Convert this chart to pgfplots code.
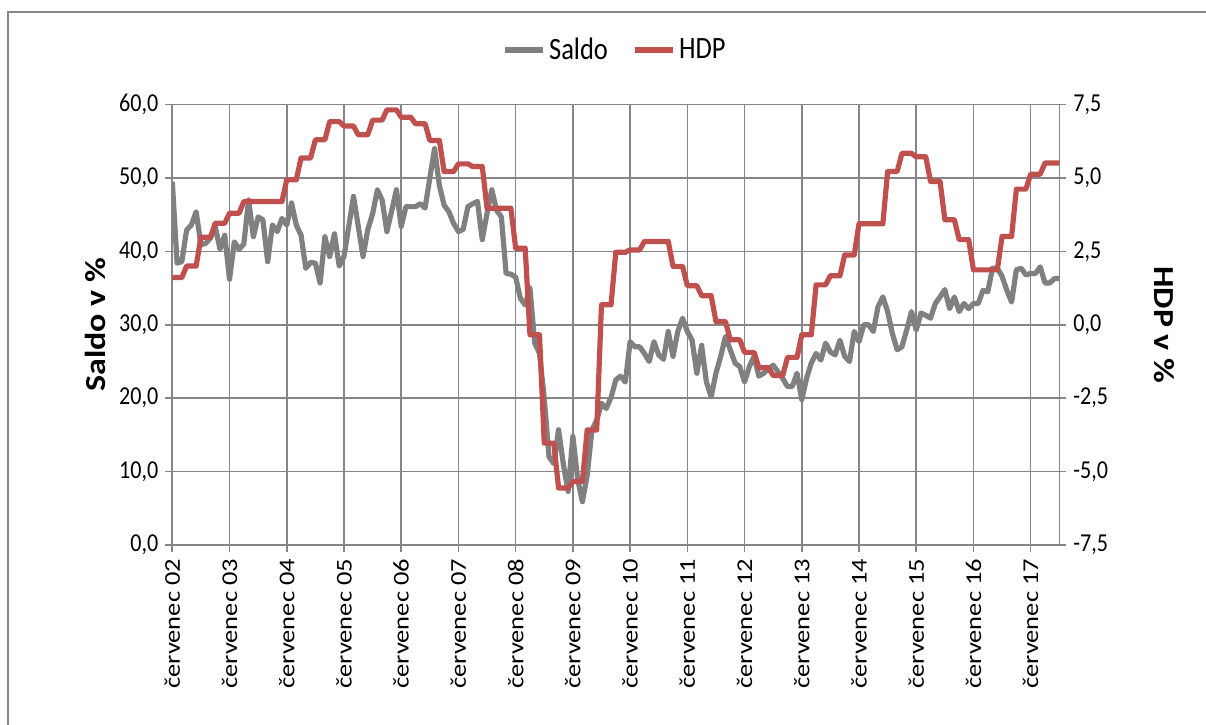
\documentclass[border=0pt]{standalone}
\usepackage{fontspec}
\setmainfont{Carlito}
\newfontfamily\hfont{Carlito}[FakeStretch=0.855]
\newfontfamily\vfont{Carlito}[FakeStretch=1.17]
\usepackage{pgfplots}
\pgfplotsset{compat=1.18}
\usepackage{pgfplotstable}
\definecolor{gridgray}{HTML}{868686}
\definecolor{saldogray}{HTML}{808080}
\definecolor{hdpred}{HTML}{C0504D}
\pgfplotsset{legend image code/.code={\draw[#1] (0pt,0pt) -- (19pt,0pt);}}

\pgfplotstableread{
m saldo hdp
0 49.5 1.61
1 38.4 1.61
2 38.6 1.61
3 42.9 2.00
4 43.6 2.00
5 45.4 2.00
6 40.9 2.98
7 41.1 2.98
8 41.8 2.98
9 43.4 3.46
10 40.3 3.46
11 42.2 3.46
12 36.2 3.80
13 41.3 3.80
14 40.3 3.80
15 41.0 4.20
16 47.0 4.20
17 42.0 4.20
18 44.7 4.20
19 44.3 4.20
20 38.6 4.20
21 43.6 4.20
22 42.7 4.20
23 44.5 4.20
24 43.6 4.94
25 46.6 4.94
26 43.6 4.94
27 42.2 5.68
28 37.7 5.68
29 38.5 5.68
30 38.4 6.30
31 35.7 6.30
32 42.0 6.30
33 39.3 6.92
34 42.4 6.92
35 38.0 6.92
36 39.3 6.77
37 43.4 6.77
38 47.5 6.77
39 43.4 6.47
40 39.3 6.47
41 43.0 6.47
42 45.1 6.97
43 48.4 6.97
44 47.0 6.97
45 42.7 7.32
46 45.5 7.32
47 48.4 7.32
48 43.4 7.07
49 46.1 7.07
50 46.1 7.07
51 46.1 6.85
52 46.5 6.85
53 45.9 6.85
54 50.0 6.28
55 54.0 6.28
56 49.0 6.28
57 46.3 5.22
58 45.4 5.22
59 43.8 5.22
60 42.7 5.48
61 43.0 5.48
62 46.1 5.48
63 46.5 5.39
64 46.8 5.39
65 41.6 5.39
66 45.2 3.97
67 48.4 3.97
68 45.6 3.97
69 44.7 3.97
70 37.0 3.97
71 36.9 3.97
72 36.5 2.61
73 33.6 2.61
74 32.7 2.61
75 35.0 -0.34
76 27.5 -0.34
77 26.1 -0.34
78 20.0 -4.03
79 12.0 -4.03
80 11.1 -4.03
81 15.7 -5.56
82 11.0 -5.56
83 7.3 -5.56
84 14.8 -5.34
85 9.0 -5.34
86 5.9 -5.34
87 9.5 -3.58
88 15.7 -3.58
89 17.0 -3.58
90 19.3 0.68
91 18.6 0.68
92 20.1 0.68
93 22.5 2.47
94 23.0 2.47
95 22.2 2.47
96 27.7 2.55
97 27.0 2.55
98 27.0 2.55
99 26.1 2.84
100 25.0 2.84
101 27.7 2.84
102 25.9 2.84
103 25.3 2.84
104 29.1 2.84
105 25.7 1.99
106 29.1 1.99
107 30.9 1.99
108 29.1 1.33
109 27.9 1.33
110 23.4 1.33
111 27.2 0.99
112 22.2 0.99
113 20.2 0.99
114 23.4 0.11
115 25.7 0.11
116 28.4 0.11
117 26.6 -0.51
118 24.8 -0.51
119 24.3 -0.51
120 22.2 -0.94
121 24.3 -0.94
122 25.7 -0.94
123 23.0 -1.46
124 23.4 -1.46
125 24.0 -1.46
126 24.5 -1.73
127 23.6 -1.73
128 22.7 -1.73
129 21.6 -1.11
130 21.6 -1.11
131 23.4 -1.11
132 19.8 -0.34
133 22.7 -0.34
134 24.8 -0.34
135 26.1 1.36
136 25.2 1.36
137 27.5 1.36
138 26.3 1.67
139 25.9 1.67
140 27.9 1.67
141 25.7 2.38
142 25.0 2.38
143 29.1 2.38
144 27.7 3.44
145 30.0 3.44
146 30.0 3.44
147 29.1 3.44
148 32.5 3.44
149 33.8 3.44
150 31.8 5.22
151 28.8 5.22
152 26.6 5.22
153 27.0 5.84
154 29.3 5.84
155 31.8 5.84
156 29.3 5.72
157 31.6 5.72
158 31.3 5.72
159 30.9 4.88
160 32.9 4.88
161 33.8 4.88
162 34.8 3.58
163 32.2 3.58
164 33.8 3.58
165 31.8 2.90
166 32.9 2.90
167 32.2 2.90
168 32.9 1.87
169 32.9 1.87
170 34.7 1.87
171 34.5 1.87
172 37.7 1.87
173 37.7 1.87
174 36.6 3.01
175 34.7 3.01
176 33.1 3.01
177 37.5 4.62
178 37.7 4.62
179 36.8 4.62
180 37.0 5.13
181 37.0 5.13
182 37.9 5.13
183 35.7 5.51
184 35.7 5.51
185 36.3 5.51
186 36.3 5.51
}\datatab

\begin{document}
\begin{tikzpicture}
\path[use as bounding box] (-86.15pt,-89.5pt) rectangle (516.85pt,272.5pt);
\draw[gridgray, line width=1pt] (-82.15pt,-95pt) -- (-82.15pt,266.5pt) -- (525pt,266.5pt);
\begin{axis}[
  at={(0pt,0pt)}, anchor=south west,
  scale only axis, width=443.5pt, height=220.2pt,
  xmin=0, xmax=186, ymin=0, ymax=60,
  xtick={0,12,...,180},
  xticklabels={červenec 02,červenec 03,červenec 04,červenec 05,červenec 06,červenec 07,červenec 08,červenec 09,červenec 10,červenec 11,červenec 12,červenec 13,červenec 14,červenec 15,červenec 16,červenec 17},
  ytick={0,10,20,30,40,50,60},
  xtick pos=bottom, ytick pos=left,
  grid=major,
  major grid style={gridgray, line width=0.8pt},
  axis line style={gridgray, line width=0.8pt},
  tick style={gridgray, line width=0.8pt},
  tick align=outside, major tick length=3.5pt,
  xticklabel style={font=\vfont\fontsize{11.3}{12}\selectfont, rotate=90, anchor=east},
  yticklabel style={font=\hfont\fontsize{12.9}{14}\selectfont, anchor=east},
  /pgf/number format/use comma, /pgf/number format/fixed, /pgf/number format/fixed zerofill, /pgf/number format/precision=1, /pgf/number format/assume math mode=true,
  ylabel={Saldo v \%},
  ylabel style={font=\vfont\bfseries\fontsize{14.5}{16}\selectfont, at={(axis description cs:-0.087,0.5)}, anchor=center},
]
\addplot[saldogray, line width=2.6pt, line join=round] table[x=m, y=saldo]{\datatab};
\end{axis}
\begin{axis}[
  at={(0pt,0pt)}, anchor=south west,
  scale only axis, width=443.5pt, height=220.2pt,
  xmin=0, xmax=186, ymin=-7.5, ymax=7.5,
  ytick={-7.5,-5,-2.5,0,2.5,5,7.5},
  axis x line=none, axis y line*=right,
  axis line style={gridgray, line width=0.8pt},
  tick style={gridgray, line width=0.8pt},
  tick align=outside, major tick length=3.5pt,
  yticklabel style={font=\hfont\fontsize{12.9}{14}\selectfont, anchor=west},
  /pgf/number format/use comma, /pgf/number format/fixed, /pgf/number format/fixed zerofill, /pgf/number format/precision=1, /pgf/number format/assume math mode=true,
  ylabel={HDP v \%},
  ylabel style={font=\vfont\bfseries\fontsize{14.5}{16}\selectfont, at={(axis description cs:1.119,0.5)}, anchor=center, rotate=180},
  legend style={at={(0.5,1.124)}, anchor=center, draw=none, fill=none, legend columns=2, font=\hfont\fontsize{15.5}{17}\selectfont, /tikz/every even column/.append style={column sep=10pt}},
]
\addlegendimage{saldogray, line width=2.6pt}
\addlegendentry{Saldo}
\addplot[hdpred, line width=2.6pt, line join=round] table[x=m, y=hdp]{\datatab};
\addlegendentry{HDP}
\end{axis}
\end{tikzpicture}
\end{document}
